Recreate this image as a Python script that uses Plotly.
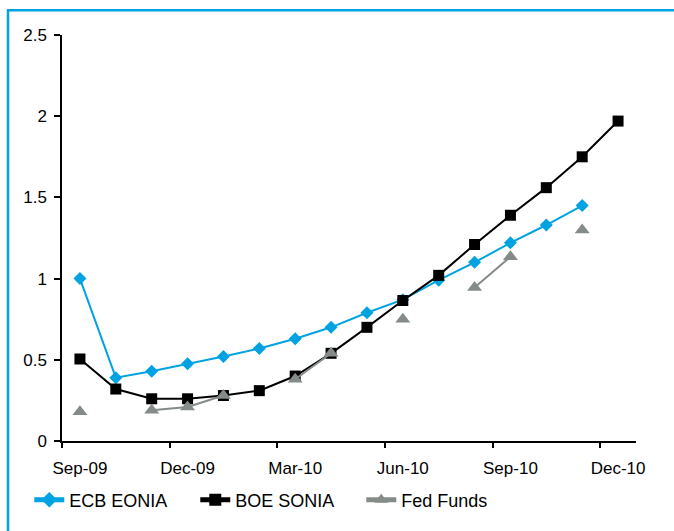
import plotly.graph_objects as go

# Monthly overnight rates, Sep-09 to Dec-10 (%)
months = ["Sep-09", "Oct-09", "Nov-09", "Dec-09", "Jan-10", "Feb-10", "Mar-10", "Apr-10",
          "May-10", "Jun-10", "Jul-10", "Aug-10", "Sep-10", "Oct-10", "Nov-10", "Dec-10"]
ecb_eonia = [1.00, 0.39, 0.43, 0.475, 0.52, 0.57, 0.63, 0.70,
             0.79, 0.87, 0.99, 1.10, 1.22, 1.33, 1.45, None]
boe_sonia = [0.505, 0.32, 0.26, 0.26, 0.28, 0.31, 0.40, 0.54,
             0.70, 0.865, 1.02, 1.21, 1.39, 1.56, 1.75, 1.97]
fed_funds = [0.18, None, 0.19, 0.21, 0.28, None, 0.38, 0.54,
             None, 0.75, None, 0.945, 1.135, None, 1.30, None]

label_months = ["Sep-09", "Dec-09", "Mar-10", "Jun-10", "Sep-10", "Dec-10"]

xs = list(range(len(months)))
label_pos = [months.index(m) for m in label_months]
boundary_pos = [p - 0.5 for p in label_pos]

BLUE = "#00A2E1"
GREY = "#858C88"
FONT = "Liberation Sans, Arial, sans-serif"

fig = go.Figure()
fig.add_trace(go.Scatter(
    x=xs, y=ecb_eonia, name="ECB EONIA", mode="lines+markers",
    line=dict(color=BLUE, width=2),
    marker=dict(symbol="diamond", size=10, color=BLUE),
))
fig.add_trace(go.Scatter(
    x=xs, y=boe_sonia, name="BOE SONIA", mode="lines+markers",
    line=dict(color="#000000", width=2),
    marker=dict(symbol="square", size=11, color="#000000"),
))
fig.add_trace(go.Scatter(
    x=xs, y=fed_funds, name="Fed Funds", mode="lines+markers",
    line=dict(color=GREY, width=2), connectgaps=False,
    marker=dict(symbol="triangle-up", size=13, color=GREY),
))
# invisible carrier for the boundary tick axis
fig.add_trace(go.Scatter(x=[xs[0]], y=[None], xaxis="x2", showlegend=False,
                         hoverinfo="skip", mode="markers"))

W, H = 674, 531
ml, mr, mt, mb = 62, 38, 35, 85
pw, ph = W - ml - mr, H - mt - mb

fig.update_layout(
    width=W, height=H,
    margin=dict(l=ml, r=mr, t=mt, b=mb),
    paper_bgcolor="white", plot_bgcolor="white",
    font=dict(family=FONT, size=17, color="#000000"),
    showlegend=True,
    legend=dict(orientation="h", x=-0.057, xanchor="left", y=-0.1, yanchor="top",
                font=dict(size=18), itemsizing="constant",
                entrywidth=121, entrywidthmode="pixels",
                tracegroupgap=0, bgcolor="rgba(0,0,0,0)"),
    xaxis=dict(range=[-0.5, len(months) - 0.5], tickmode="array",
               tickvals=label_pos, ticktext=label_months,
               ticks="outside", ticklen=6, tickcolor="rgba(0,0,0,0)",
               ticklabelstandoff=5,
               showline=True, linecolor="#000000", linewidth=1.5,
               showgrid=False, zeroline=False),
    xaxis2=dict(overlaying="x", matches="x", anchor="y", side="bottom",
                tickmode="array", tickvals=boundary_pos,
                ticks="outside", ticklen=6, tickwidth=1.5, tickcolor="#000000",
                showticklabels=False, showline=False, showgrid=False, zeroline=False),
    yaxis=dict(range=[0, 2.5], tickmode="array", tickvals=[0, 0.5, 1, 1.5, 2, 2.5],
               ticktext=["0", "0.5", "1", "1.5", "2", "2.5"],
               ticks="outside", ticklen=6, tickwidth=1.5, tickcolor="#000000",
               ticklabelstandoff=4,
               showline=True, linecolor="#000000", linewidth=1.5,
               showgrid=False, zeroline=False),
    shapes=[dict(type="rect", xref="paper", yref="paper",
                 x0=(8 - ml) / pw, x1=(W + 10 - ml) / pw,
                 y0=-(mb + 10) / ph, y1=1 + (mt - 10) / ph,
                 line=dict(color=BLUE, width=2.5), fillcolor="rgba(0,0,0,0)", layer="below")],
)

fig.write_html("out.html")
